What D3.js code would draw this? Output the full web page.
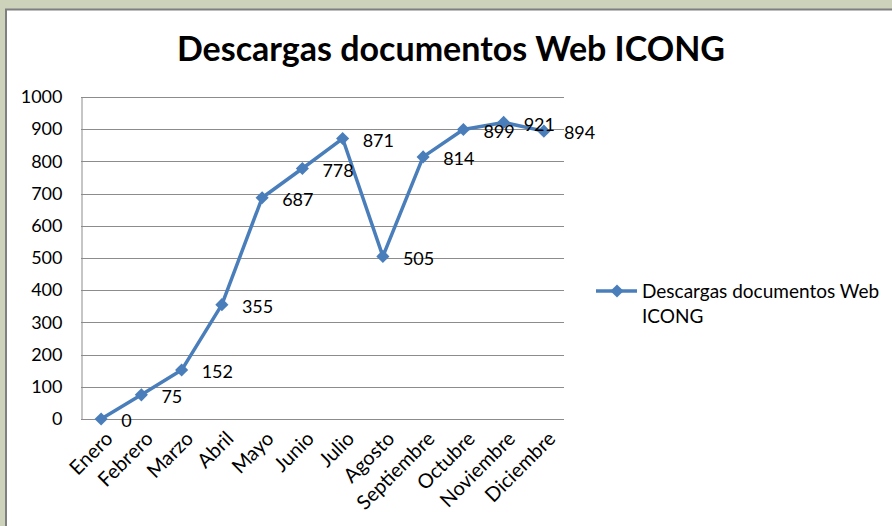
<!DOCTYPE html>
<html>
<head>
<meta charset="utf-8">
<script src="https://cdn.jsdelivr.net/npm/d3@7"></script>
<style>
  html, body { margin: 0; padding: 0; background: #cdd3bb; }
  svg { display: block; font-family: Lato, "Open Sans", sans-serif; }
</style>
</head>
<body>
<svg id="chart" width="892" height="526"></svg>
<script>
  // data
  const months = ['Enero', 'Febrero', 'Marzo', 'Abril', 'Mayo', 'Junio',
    'Julio', 'Agosto', 'Septiembre', 'Octubre', 'Noviembre', 'Diciembre']
  const downloads = [0, 75, 152, 355, 687, 778, 871, 505, 814, 899, 921, 894]
  const yTicks = [0, 100, 200, 300, 400, 500, 600, 700, 800, 900, 1000]
  const seriesName = 'Descargas documentos Web ICONG'
  const title = 'Descargas documentos Web ICONG'

  const BLUE = '#4a7ebb'
  const GRID = '#8c8c8c'

  const svg = d3.select('#chart')

  // frame (excel chart window)
  svg.append('rect')
    .attr('x', 6).attr('y', 10).attr('width', 892).attr('height', 526)
    .attr('fill', '#fff')
  svg.append('path')
    .attr('d', 'M6,526 V9.5 H892')
    .attr('fill', 'none').attr('stroke', '#7f7f7f').attr('stroke-width', 2)

  // title
  svg.append('text')
    .attr('x', 451).attr('y', 61)
    .attr('text-anchor', 'middle')
    .attr('font-size', 34).attr('font-weight', 700)
    .attr('fill', '#000')
    .text(title)

  // scales
  const plot = { left: 81, top: 97, right: 564, bottom: 419 }
  const x = d3.scaleBand().domain(months).range([plot.left, plot.right])
  const y = d3.scaleLinear().domain([0, 1000]).range([plot.bottom, plot.top])
  const cx = m => x(m) + x.bandwidth() / 2

  // grid
  svg.append('g').selectAll('line')
    .data(yTicks)
    .join('line')
    .attr('x1', plot.left).attr('x2', plot.right)
    .attr('y1', d => Math.round(y(d)) + 0.5).attr('y2', d => Math.round(y(d)) + 0.5)
    .attr('stroke', GRID).attr('stroke-width', 1)

  // y axis
  const yAxis = svg.append('g')
    .attr('transform', `translate(${plot.left + 0.5},0)`)
    .call(d3.axisLeft(y).tickValues(yTicks).tickFormat(d3.format('d'))
      .tickSize(0).tickPadding(19))
  yAxis.select('.domain').attr('stroke', GRID)
  yAxis.selectAll('text').attr('font-size', 18).attr('fill', '#000')
    .attr('font-family', 'Lato')

  // x axis labels
  svg.append('g').selectAll('text')
    .data(months)
    .join('text')
    .attr('transform', d => `translate(${cx(d) + 8},${plot.bottom + 16}) rotate(-45)`)
    .attr('text-anchor', 'end')
    .attr('dy', '0.35em')
    .attr('font-size', 20)
    .attr('fill', '#000')
    .text(d => d)

  // line
  const line = d3.line()
    .x((d, i) => cx(months[i]))
    .y(d => y(d))
  svg.append('path')
    .datum(downloads)
    .attr('d', line)
    .attr('fill', 'none')
    .attr('stroke', BLUE)
    .attr('stroke-width', 3.5)
    .attr('stroke-linejoin', 'round')

  // markers
  const diamond = d3.symbol().type(d3.symbolDiamond2).size(110)
  svg.append('g').selectAll('path')
    .data(downloads)
    .join('path')
    .attr('transform', (d, i) => `translate(${cx(months[i])},${y(d)})`)
    .attr('d', diamond)
    .attr('fill', BLUE)

  // value labels
  svg.append('g').selectAll('text')
    .data(downloads)
    .join('text')
    .attr('x', (d, i) => cx(months[i]) + 20)
    .attr('y', d => y(d) + 2)
    .attr('dy', '0.35em')
    .attr('font-size', 18)
    .attr('fill', '#000')
    .text(d => d)

  // legend
  const lg = svg.append('g').attr('transform', 'translate(596,291)')
  lg.append('line')
    .attr('x1', 0).attr('x2', 41)
    .attr('stroke', BLUE).attr('stroke-width', 3.5)
  lg.append('path')
    .attr('transform', 'translate(21,0)')
    .attr('d', diamond)
    .attr('fill', BLUE)
  const words = seriesName.split(' ')
  const lt = lg.append('text')
    .attr('x', 46).attr('font-size', 19).attr('fill', '#000')
  lt.append('tspan').attr('x', 46).attr('dy', '0.35em')
    .text(words.slice(0, 3).join(' '))
  lt.append('tspan').attr('x', 46).attr('dy', 25)
    .text(words.slice(3).join(' '))
</script>
</body>
</html>
